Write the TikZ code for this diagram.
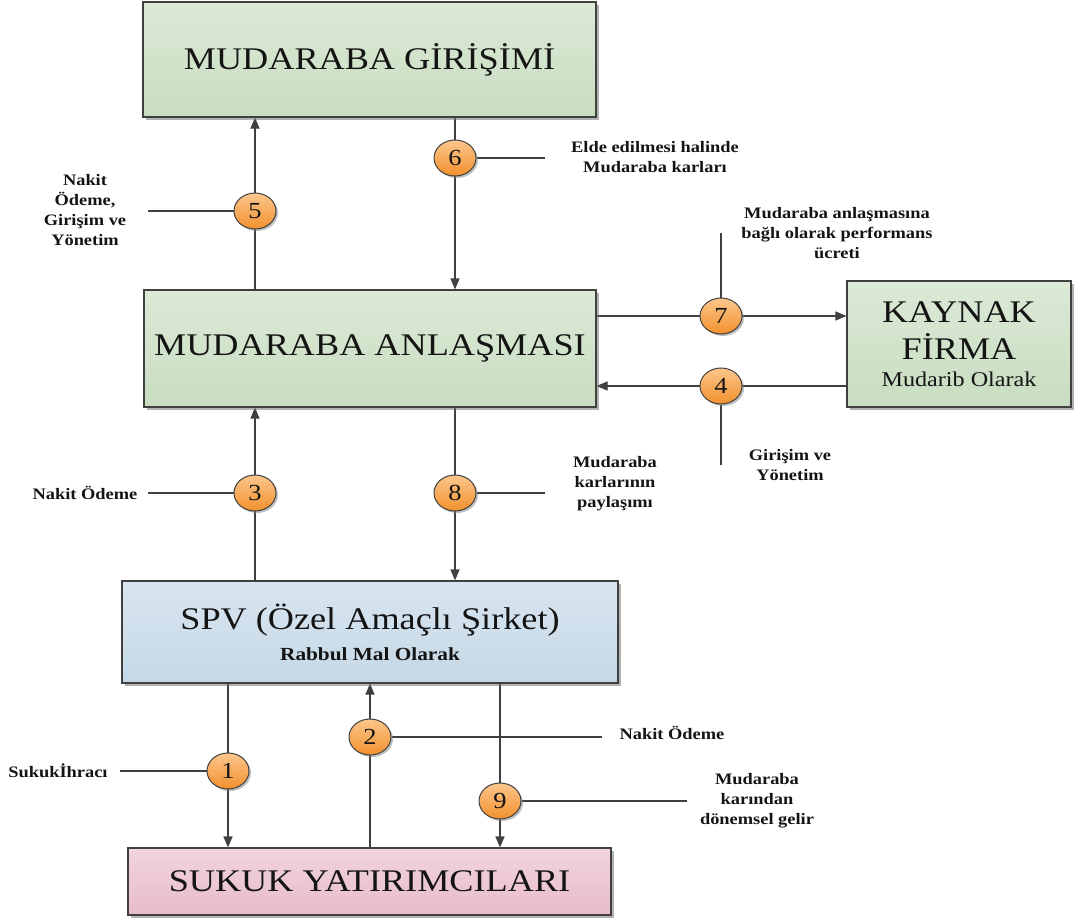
\documentclass[tikz,border=0pt]{standalone}
\usepackage{fontspec}
\setmainfont{Liberation Serif}[FakeStretch=1.15]
\usetikzlibrary{arrows.meta,shadows,shapes.geometric}
\pgfdeclarelayer{background}
\pgfsetlayers{background,main}

\definecolor{edge}{HTML}{404040}
\definecolor{ink}{HTML}{141414}
\definecolor{grtop}{HTML}{DCE9D6}
\definecolor{grbot}{HTML}{C8DDC1}
\definecolor{bltop}{HTML}{D8E5F0}
\definecolor{blbot}{HTML}{C5D8E6}
\definecolor{pktop}{HTML}{F1D4DF}
\definecolor{pkbot}{HTML}{E8BBCB}
\definecolor{ortop}{HTML}{FCC68C}
\definecolor{orbot}{HTML}{F2912E}

\newcommand\boxtitlefont{\fontsize{31.5}{37}\selectfont}
\newcommand\boxsubfont{\fontsize{18.5}{22}\selectfont}

\tikzset{
  shade/.style={drop shadow={shadow xshift=3pt,shadow yshift=-3pt,fill=black!55,opacity=.55}},
  box/.style={draw=edge, line width=1.1pt, inner sep=0pt, align=center,
    text=ink, font=\boxtitlefont, shade},
  greenbox/.style={box, top color=grtop, bottom color=grbot},
  bluebox/.style={box, top color=bltop, bottom color=blbot},
  pinkbox/.style={box, top color=pktop, bottom color=pkbot},
  num/.style={ellipse, draw=edge, line width=1pt, minimum width=42pt,
    minimum height=36pt, inner sep=0pt, top color=ortop, bottom color=orbot,
    text=ink, font=\fontsize{23}{25}\selectfont,
    drop shadow={shadow xshift=2pt,shadow yshift=-2pt,fill=black!50,opacity=.5}},
  lbl/.style={align=center, text=ink, font=\bfseries\fontsize{16}{20}\selectfont},
  conn/.style={draw=edge, line width=1.1pt},
  arr/.style={conn, -{Triangle[length=11pt,width=9pt]}}
}

\begin{document}
\begin{tikzpicture}[x=1pt,y=-1pt]
\useasboundingbox (0,0) rectangle (1088,922);

% boxes
\node[greenbox, minimum width=453pt, minimum height=115pt] (gir) at (369.5,59.5)
  {MUDARABA GİRİŞİMİ};
\node[greenbox, minimum width=452pt, minimum height=117pt] (anl) at (370,348.5)
  {MUDARABA ANLAŞMASI};
\node[greenbox, minimum width=224pt, minimum height=126pt] (kay) at (959,344)
  {KAYNAK\\FİRMA\\[-10pt]{\fontsize{21}{25}\selectfont Mudarib Olarak}};
\node[bluebox, minimum width=496pt, minimum height=102pt] (spv) at (370,632)
  {SPV (Özel Amaçlı Şirket)\\[-6pt]{\boxsubfont\bfseries Rabbul Mal Olarak}};
\node[pinkbox, minimum width=483pt, minimum height=67pt] (suk) at (369.5,881.5)
  {SUKUK YATIRIMCILARI};

% numbered steps
\node[num] (c1) at (228,771) {1};
\node[num] (c2) at (370,737) {2};
\node[num] (c3) at (255,493) {3};
\node[num] (c4) at (721,386) {4};
\node[num] (c5) at (255,211) {5};
\node[num] (c6) at (455,158) {6};
\node[num] (c7) at (721,316) {7};
\node[num] (c8) at (455,493) {8};
\node[num] (c9) at (500,801) {9};

% free ends of the label leaders
\coordinate (e1) at (120,771);
\coordinate (e2) at (602,737);
\coordinate (e3) at (148,493);
\coordinate (e4) at (721,465);
\coordinate (e5) at (148,211);
\coordinate (e6) at (545,158);
\coordinate (e7) at (721,233);
\coordinate (e8) at (545,493);
\coordinate (e9) at (687,801);

% labels
\node[lbl] (l1) at (58,771) {Sukukİhracı};
\node[lbl] (l2) at (672,733) {Nakit Ödeme};
\node[lbl] (l3) at (85,493) {Nakit Ödeme};
\node[lbl] (l4) at (790,465) {Girişim ve\\Yönetim};
\node[lbl] (l5) at (85,210) {Nakit\\Ödeme,\\Girişim ve\\Yönetim};
\node[lbl] (l6) at (655,157) {Elde edilmesi halinde\\Mudaraba karları};
\node[lbl] (l7) at (837,233) {Mudaraba anlaşmasına\\bağlı olarak performans\\ücreti};
\node[lbl] (l8) at (615,484) {Mudaraba\\karlarının\\paylaşımı};
\node[lbl] (l9) at (757,801) {Mudaraba\\karından\\dönemsel gelir};

% connectors
\begin{pgfonlayer}{background}
\draw[arr] (anl.north -| c5) -- (gir.south -| c5);
\draw[conn] (e5) -- (c5);
\draw[arr] (gir.south -| c6) -- (anl.north -| c6);
\draw[conn] (c6) -- (e6);
\draw[arr] (anl.east |- c7) -- (kay.west |- c7);
\draw[conn] (e7) -- (c7);
\draw[arr] (kay.west |- c4) -- (anl.east |- c4);
\draw[conn] (c4) -- (e4);
\draw[arr] (spv.north -| c3) -- (anl.south -| c3);
\draw[conn] (e3) -- (c3);
\draw[arr] (anl.south -| c8) -- (spv.north -| c8);
\draw[conn] (c8) -- (e8);
\draw[arr] (spv.south -| c1) -- (suk.north -| c1);
\draw[conn] (e1) -- (c1);
\draw[arr] (suk.north -| c2) -- (spv.south -| c2);
\draw[conn] (c2) -- (e2);
\draw[arr] (spv.south -| c9) -- (suk.north -| c9);
\draw[conn] (c9) -- (e9);
\end{pgfonlayer}
\end{tikzpicture}
\end{document}
